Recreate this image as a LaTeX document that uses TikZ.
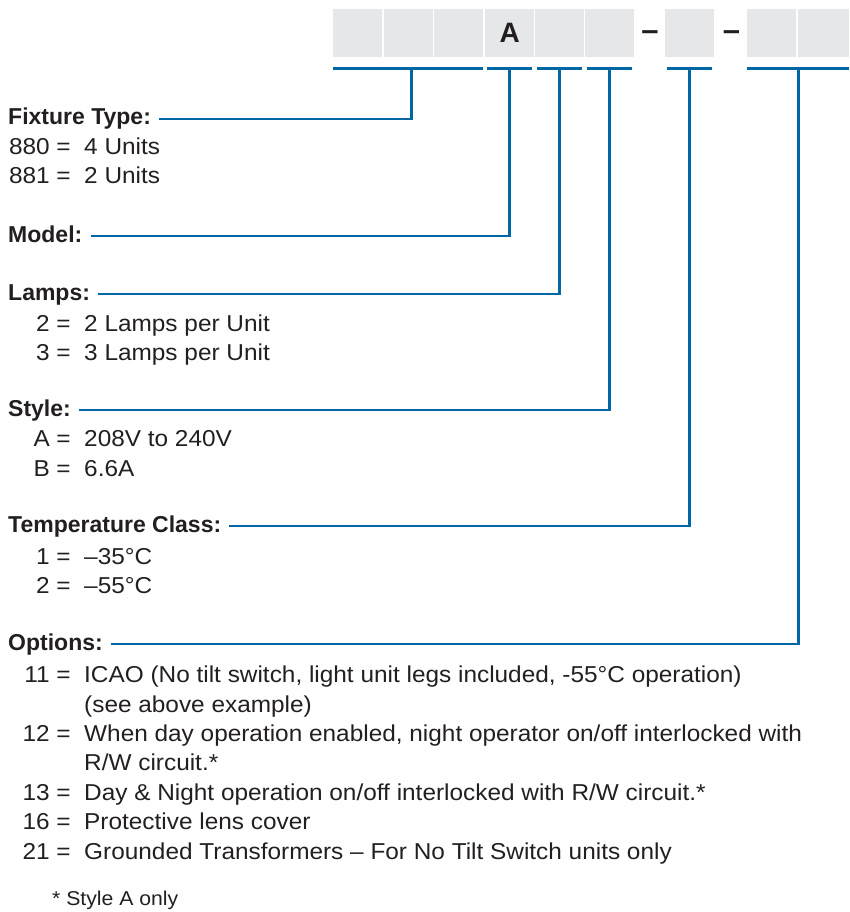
\documentclass[tikz,border=0pt]{standalone}
\usepackage{fontspec}
\setmainfont{Liberation Sans}[UprightFeatures={FakeStretch=1.06}]
\usetikzlibrary{positioning}

\definecolor{leaderblue}{HTML}{0067A5}
\definecolor{boxgray}{HTML}{E6E7E8}
\definecolor{ink}{HTML}{231F20}

\tikzset{
    digit/.style={fill=boxgray, minimum width=49pt, minimum height=48pt, inner sep=0pt, anchor=north west},
    digitmark/.style={inner sep=0pt, text=ink, font=\fontsize{28}{28}\selectfont\bfseries},
    leader/.style={draw=leaderblue, line width=2.6pt},
    heading/.style={anchor=base west, inner sep=0pt, text height=16.5pt, text depth=4.8pt, text=ink, font=\fontsize{23}{23}\selectfont\bfseries},
    entry/.style={inner sep=0pt, text=ink, font=\fontsize{23}{23}\selectfont}
}

\begin{document}
\begin{tikzpicture}[x=1pt, y=-1pt]

    \useasboundingbox (0,0) rectangle (849,912);

    % code boxes
    \foreach \n/\x/\w in {1/333/49, 2/384/49, 3/434/49, 4/485/49, 5/535/49, 6/585/49, 7/665/49, 8/747/49, 9/798/51}
    \node[digit, minimum width=\w pt] (b\n) at (\x,9) {};

    \node[digitmark] (modelA) at (b4) {A};
    \node[digitmark, font=\fontsize{31}{31}\selectfont\bfseries] (dash1) at (650,36) {–};
    \node[digitmark, font=\fontsize{31}{31}\selectfont\bfseries] (dash2) at (731.5,36) {–};

    % underlines
    \draw[leader] ([yshift=-11pt]b1.south west) -- ([yshift=-11pt]b3.south east) coordinate[pos=0.52] (tFix);
    \foreach \b/\t in {4/tMod, 5/tLmp, 6/tSty, 7/tTmp}
    \draw[leader] ([shift={(2pt,-11pt)}]b\b.south west) -- ([shift={(-2pt,-11pt)}]b\b.south east) coordinate[midway] (\t);
    \draw[leader] ([yshift=-11pt]b8.south west) -- ([yshift=-11pt]b9.south east) coordinate[midway] (tOpt);

    % headings
    \node[heading] (fix) at (8,125) {Fixture Type:};
    \node[heading] (mod) at (8,242) {Model:};
    \node[heading] (lmp) at (8,300) {Lamps:};
    \node[heading] (sty) at (8,416) {Style:};
    \node[heading] (tmp) at (8,532) {Temperature Class:};
    \node[heading] (opt) at (8,650) {Options:};

    \draw[leader] ([xshift=8pt]fix.east) -| (tFix);
    \draw[leader] ([xshift=8pt]mod.east) -| (tMod);
    \draw[leader] ([xshift=8pt]lmp.east) -| (tLmp);
    \draw[leader] ([xshift=8pt]sty.east) -| (tSty);
    \draw[leader] ([xshift=8pt]tmp.east) -| (tTmp);
    \draw[leader] ([xshift=8pt]opt.east) -| (tOpt);

    % entries
    \foreach \k/\v/\y [count=\i] in {880/4 Units/155, 881/2 Units/184,
        2/2 Lamps per Unit/331, 3/3 Lamps per Unit/360,
        A/208V to 240V/446, B/6.6A/476,
        1/–35°C/564, 2/–55°C/593,
        11/{ICAO (No tilt switch, light unit legs included, -55°C operation)}/682,
        12/{When day operation enabled, night operator on/off interlocked with}/741,
        13/{Day \& Night operation on/off interlocked with R/W circuit.*}/800,
        16/Protective lens cover/829,
        21/Grounded Transformers – For No Tilt Switch units only/859}
    {
        \node[entry, anchor=base east] (k\i) at (50,\y) {\k};
        \node[entry, anchor=base] (eq\i) at (63.5,\y) {=};
        \node[entry, anchor=base west] (v\i) at (84,\y) {\v};
    }

    \node[entry, anchor=base west] (v9b) at (84,712) {(see above example)};
    \node[entry, anchor=base west] (v10b) at (84,770) {R/W circuit.*};

    \node[entry, anchor=base west, font=\fontsize{20}{20}\selectfont] (note) at (52,905) {* Style A only};

\end{tikzpicture}
\end{document}
